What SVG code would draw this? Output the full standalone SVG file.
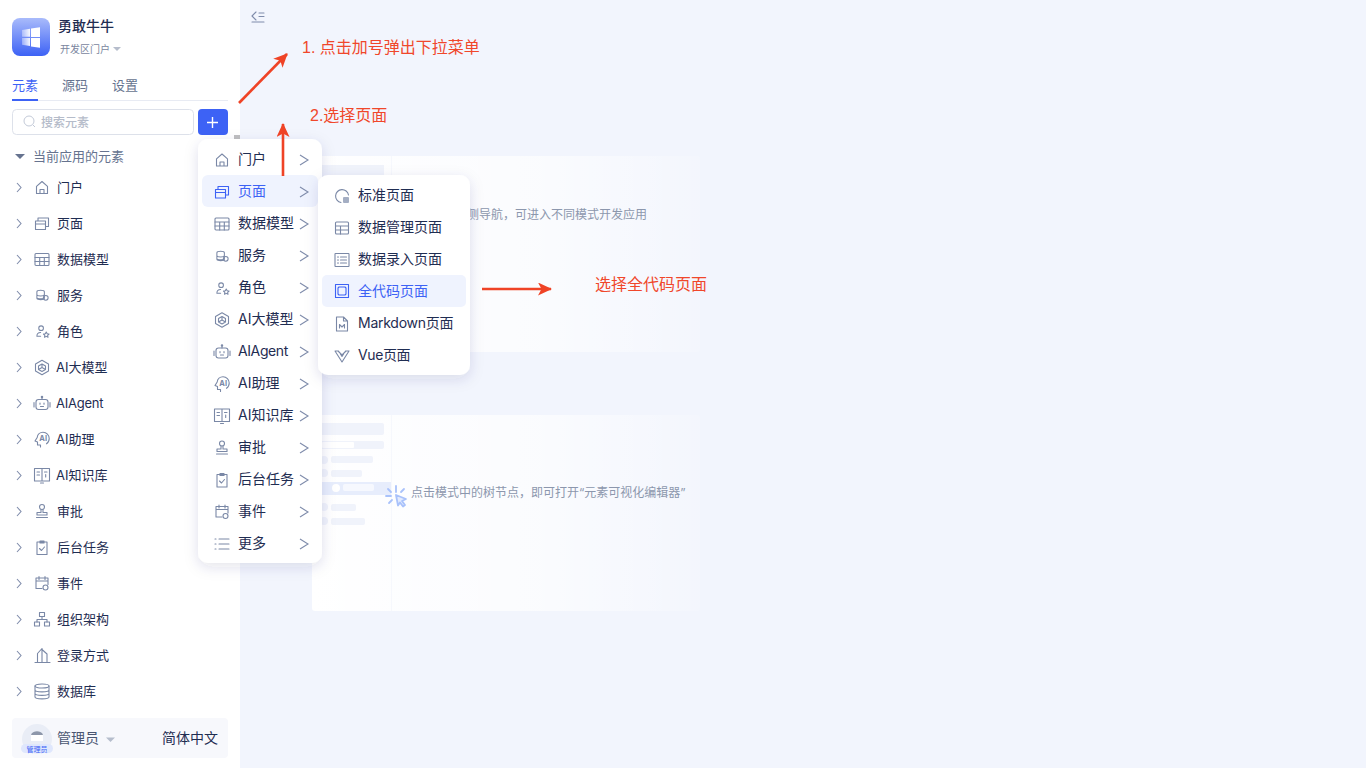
<svg xmlns="http://www.w3.org/2000/svg" width="1366" height="768" viewBox="0 0 1366 768">
<style>
text{font-family:"Inter","Noto Sans CJK SC","Noto Sans",sans-serif;fill:#1f2d52}
.s13{font-size:13px}.s14{font-size:14px}
.lat13{letter-spacing:-.25px}.lat14{letter-spacing:-.4px}
.blue{fill:#3d62f5}
.note{font-size:16px;fill:#f0472b;font-family:"Liberation Sans","Noto Sans CJK SC",sans-serif}
.hint{font-size:12px;fill:#8c97ad}
.i{fill:none;stroke:#7a88a6;stroke-width:1.1;stroke-linejoin:round;stroke-linecap:round}
.ib{stroke:#3d62f5}
.chev{fill:none;stroke:#7f8cab;stroke-width:1.1}
.red{fill:none;stroke:#ef4326;stroke-width:2.6}
.ph{fill:#f0f3fb}
</style>
<defs>
<linearGradient id="panel" x1="0" x2="1" y1="0" y2="0"><stop offset="0" stop-color="#fff" stop-opacity="1"/><stop offset=".6" stop-color="#fff" stop-opacity=".65"/><stop offset="1" stop-color="#fff" stop-opacity=".12"/></linearGradient>
<linearGradient id="logo" x1="0" x2="0" y1="0" y2="1"><stop offset="0" stop-color="#a9bbfb"/><stop offset="1" stop-color="#3d62f5"/></linearGradient>
<linearGradient id="win" x1="0" x2="1" y1="0" y2="0"><stop offset="0" stop-color="#fff" stop-opacity=".35"/><stop offset=".5" stop-color="#fff"/></linearGradient>
<filter id="sh" x="-20%" y="-10%" width="140%" height="125%"><feDropShadow dx="0" dy="4" stdDeviation="7" flood-color="#2a3a6b" flood-opacity=".13"/></filter>
<marker id="ah" markerWidth="16" markerHeight="14" refX="13" refY="6.500" orient="auto" markerUnits="userSpaceOnUse" viewBox="0 0 16 14"><path d="M0 0L14 6.500L0 13L3.500 6.500Z" fill="#ef4326"/></marker>
<symbol id="home" viewBox="0 0 16 16" overflow="visible"><path class="i" d="M2.500 6.800L8 2l5.500 4.800V14h-11zM6 14v-4h4v4"/></symbol>
<symbol id="page" viewBox="0 0 16 16" overflow="visible"><path class="i" d="M1.500 5.500h10v8.500h-10zM1.500 8.500h10M4 5.500V2.500h10.500V11h-3"/></symbol>
<symbol id="pageb" viewBox="0 0 16 16" overflow="visible"><path class="i ib" d="M1.500 5.500h10v8.500h-10zM1.500 8.500h10M4 5.500V2.500h10.500V11h-3"/></symbol>
<symbol id="table" viewBox="0 0 16 16" overflow="visible"><rect class="i" x="1" y="2" width="14" height="12" rx="1"/><path class="i" d="M1 6h14M1 10h14M5.700 6v8M10.300 6v8"/></symbol>
<symbol id="svc" viewBox="0 0 16 16" overflow="visible"><path class="i" d="M2 4c0-2 8-2 8 0v7c0 2-8 2-8 0zM2 7c0 2 8 2 8 0M2 10c0 1.500 5 2 6 1"/><circle class="i" cx="11.500" cy="10.500" r="2.500"/></symbol>
<symbol id="role" viewBox="0 0 16 16" overflow="visible"><circle class="i" cx="6.500" cy="4.500" r="2.500"/><path class="i" d="M6 9c-3 0-4 2-4 4h4M12 8.500l1 2 2 .3-1.500 1.400.4 2-1.900-1-1.900 1 .4-2L9 10.800l2-.3z"/></symbol>
<symbol id="cube" viewBox="0 0 16 16" overflow="visible"><path class="i" d="M8 .8l6.500 3.600v7.200L8 15.200l-6.500-3.600V4.400zM8 4.500l3.500 2v3.500L8 12l-3.500-2V6.500zM8 8V4.500M8 8l3.500 2M8 8l-3.500 2"/></symbol>
<symbol id="bot" viewBox="0 0 16 16" overflow="visible"><rect class="i" x="2" y="4" width="12" height="10" rx="2.500"/><path class="i" d="M8 4V2.500M0 7v4.500M16 7v4.500M6 7.500v1.200M10 7.500v1.200M6.500 11h3"/><circle class="i" cx="8" cy="1.500" r=".7"/></symbol>
<symbol id="aih" viewBox="0 0 16 16" overflow="visible"><path class="i" d="M6.500 15.500v-2H3.500V10.500L1 9.500l2.200-3.500C3.500 3 6 .8 9 .8c3.500 0 6.200 2.700 6.200 6.200 0 2.500-1 4.200-2.700 5.300"/><text x="5.300" y="9.800" style="font-size:7.500px;font-weight:700;fill:#7a88a6">AI</text></symbol>
<symbol id="book" viewBox="0 0 16 16" overflow="visible"><path class="i" d="M0.500 1H8v12.500H.5zM8 1h7.500v12.500H8zM3 4.500h2.500M3 7.500h2.500M10.500 4.500H13M11.700 7v2.500M6.500 15.500h3"/></symbol>
<symbol id="stamp" viewBox="0 0 16 16" overflow="visible"><circle class="i" cx="8" cy="3.500" r="2.500"/><path class="i" d="M7 6v3H3v2.500h10V9H9V6M2.500 14h11"/></symbol>
<symbol id="task" viewBox="0 0 16 16" overflow="visible"><path class="i" d="M3 2.500h10V15H3zM6 1.500h4v2H6zM5.500 9l2 2 3-3.500"/></symbol>
<symbol id="event" viewBox="0 0 16 16" overflow="visible"><path class="i" d="M8 13H2V2.500h12V9M2 5.500h12M5 1v3M11 1v3"/><circle class="i" cx="11.500" cy="12" r="2.500"/></symbol>
<symbol id="more" viewBox="0 0 16 16" overflow="visible"><path class="i" d="M5 3h10M5 8h10M5 13h10M1 3h1M1 8h1M1 13h1"/></symbol>
<symbol id="org" viewBox="0 0 16 16" overflow="visible"><rect class="i" x="5.500" y="1" width="5" height="4"/><rect class="i" x=".5" y="10.500" width="5" height="4"/><rect class="i" x="10.500" y="10.500" width="5" height="4"/><path class="i" d="M8 5v3M3 10.500V8h10v2.500"/></symbol>
<symbol id="login" viewBox="0 0 16 16" overflow="visible"><path class="i" d="M0 15h15M2.500 15V6L7 1v14M7 2l5 4.500V15"/></symbol>
<symbol id="db" viewBox="0 0 16 16" overflow="visible"><ellipse class="i" cx="8" cy="2.500" rx="7" ry="2"/><path class="i" d="M1 2.500v11c0 2.500 14 2.500 14 0v-11M1 6.500c0 2.500 14 2.500 14 0M1 10c0 2.500 14 2.500 14 0"/></symbol>
<symbol id="std" viewBox="0 0 16 16" overflow="visible"><path class="i" d="M14.500 7A6.500 6.500 0 1 0 7 14.500"/><rect x="9" y="9" width="6" height="6" rx="1" fill="#a4aec3"/></symbol>
<symbol id="dm" viewBox="0 0 16 16" overflow="visible"><rect class="i" x="1.500" y="2" width="13" height="12" rx="1"/><path class="i" d="M1.500 6h13M1.500 10h13M6.500 6v8"/></symbol>
<symbol id="form" viewBox="0 0 16 16" overflow="visible"><rect class="i" x="1" y="1.500" width="14" height="13" rx=".5"/><path class="i" d="M3.500 5h1M3.500 8h1M3.500 11h1M6.500 5h6M6.500 8h6M6.500 11h6"/></symbol>
<symbol id="code" viewBox="0 0 16 16" overflow="visible"><rect class="i ib" x="1.500" y="1.500" width="13" height="13"/><path class="i ib" d="M5 4h6l1 1v6l-1 1H5l-1-1V5z"/></symbol>
<symbol id="md" viewBox="0 0 16 16" overflow="visible"><path class="i" d="M2.500 1h7l4 4v10h-11zM9.500 1v4h4M5.500 12V8.500L8 11l2.500-2.500V12"/></symbol>
<symbol id="vue" viewBox="0 0 16 16" overflow="visible"><path class="i" d="M1 3L8 14l7-11h-3.500L8 8.500 4.500 3zM4 3l4 4 4-4"/></symbol>
</defs>

<rect width="1366" height="768" fill="#f2f5fd"/>

<g id="canvas-top">
<rect x="312" y="156" width="388" height="196" rx="3" fill="url(#panel)"/>
<path d="M391.500 156v196" stroke="#f6f8fd"/>
<rect x="312" y="165" width="72" height="12" fill="#f0f3fb"/>
<text x="467" y="219" class="hint">侧导航，可进入不同模式开发应用</text>
</g>
<g id="canvas-bottom">
<rect x="312" y="415" width="388" height="196" rx="3" fill="url(#panel)"/>
<path d="M391.500 415v196" stroke="#f6f8fd"/>
<rect x="312" y="423" width="72" height="12" rx="2" class="ph"/>
<rect x="312" y="441" width="72" height="8" rx="2" class="ph"/>
<rect x="322" y="442" width="32" height="6" rx="1" fill="#fff"/>
<rect x="331" y="456" width="42" height="7" rx="2" class="ph"/>
<rect x="331" y="470" width="31" height="7" rx="2" class="ph"/>
<rect x="312" y="482" width="79" height="13" fill="#e7edfc"/>
<circle cx="336" cy="488" r="4" fill="#fff"/><rect x="343" y="484" width="31" height="7" rx="2" fill="#f6f8fe"/>
<rect x="331" y="504" width="25" height="7" rx="2" class="ph"/>
<rect x="331" y="518" width="34" height="7" rx="2" class="ph"/>
<circle cx="324" cy="460" r="4" class="ph"/><circle cx="324" cy="473" r="4" class="ph"/><circle cx="324" cy="507" r="4" class="ph"/><circle cx="324" cy="521" r="4" class="ph"/>
<path d="M396 486v6M388 489l3 3M386 496h5M389 503l3-3M404 489l-3 3" stroke="#a9c2fb" stroke-width="1.800" fill="none" stroke-linecap="round"/>
<path d="M396 495l10 4-4 2 3 4-2 1.500-3-4-2 3z" fill="#e3ebfd" stroke="#a9c2fb" stroke-width="1.800" stroke-linejoin="round"/>
<text x="411" y="497" class="hint">点击模式中的树节点，即可打开“元素可视化编辑器”</text>
</g>
<g id="collapse-toggle"><path class="i" d="M256 12l-4 4 4 4M259 13h5M259 16.500h5M252 22h12" style="stroke:#7f8cab"/></g>

<g id="sidebar">
<rect width="240" height="768" fill="#fff"/>
<g id="logo"><rect x="12" y="18" width="38" height="38" rx="8" fill="url(#logo)"/>
<path d="M22 30l8-1.200v8h-8zM31 28.600l9-1.400v9.800h-9zM22 38h8v8l-8-1.200zM31 38h9v9.800l-9-1.400z" fill="url(#win)"/></g>
<text x="58" y="31" style="font-size:14px;font-weight:500">勇敢牛牛</text>
<text x="60" y="53" style="font-size:10px;fill:#7a869e">开发区门户</text>
<path d="M113 47h8l-4 4z" fill="#b6bdcc"/>
<g id="tabs">
<text x="12" y="90" class="s13 blue">元素</text><text x="62" y="90" class="s13" style="fill:#66738f">源码</text><text x="112" y="90" class="s13" style="fill:#66738f">设置</text>
<path d="M12 100.500h216" stroke="#e8ebf3"/><rect x="12" y="99" width="26" height="2" fill="#3d62f5"/>
</g>
<g id="search"><rect x="12.500" y="109.500" width="181" height="25" rx="4" fill="#fff" stroke="#dde1ea"/>
<circle cx="29" cy="121" r="5" fill="none" stroke="#c3cad8"/><path d="M33 125l2 2" stroke="#c3cad8"/>
<text x="41" y="126.500" style="font-size:12px;font-weight:500;fill:#b5bcca">搜索元素</text></g>
<g id="add-button"><rect x="198" y="109" width="30" height="26" rx="4" fill="#3d62f5"/><path d="M207 122.500h11M212.500 117v11" stroke="#fff" stroke-width="1.400"/></g>
<rect x="234" y="135" width="6" height="4" fill="#bfbfbf"/>
<path d="M15 154h10l-5 5z" fill="#66738f"/>
<text x="33" y="161" class="s13" style="fill:#66738f">当前应用的元素</text>

<g id="tree">
<g id="t-portal"><path class="chev" d="M17 183l4 4.500-4 4.500"/><use href="#home" x="34" y="179.500" width="16" height="16"/><text x="57" y="192" class="s13">门户</text></g>
<g id="t-page"><path class="chev" d="M17 219l4 4.500-4 4.500"/><use href="#page" x="34" y="215.500" width="16" height="16"/><text x="57" y="228" class="s13">页面</text></g>
<g id="t-model"><path class="chev" d="M17 255l4 4.500-4 4.500"/><use href="#table" x="34" y="251.500" width="16" height="16"/><text x="57" y="264" class="s13">数据模型</text></g>
<g id="t-service"><path class="chev" d="M17 291l4 4.500-4 4.500"/><use href="#svc" x="35" y="288" width="15" height="15"/><text x="57" y="300" class="s13">服务</text></g>
<g id="t-role"><path class="chev" d="M17 327l4 4.500-4 4.500"/><use href="#role" x="35" y="324" width="15" height="15"/><text x="57" y="336" class="s13">角色</text></g>
<g id="t-llm"><path class="chev" d="M17 363l4 4.500-4 4.500"/><use href="#cube" x="34" y="359.500" width="16" height="16"/><text x="56" y="372" class="s13">AI大模型</text></g>
<g id="t-agent"><path class="chev" d="M17 399l4 4.500-4 4.500"/><use href="#bot" x="34" y="395.500" width="16" height="16"/><text x="56" y="408" class="s13 lat13">AIAgent</text></g>
<g id="t-assist"><path class="chev" d="M17 435l4 4.500-4 4.500"/><use href="#aih" x="34" y="431.500" width="16" height="16"/><text x="56" y="444" class="s13">AI助理</text></g>
<g id="t-kb"><path class="chev" d="M17 471l4 4.500-4 4.500"/><use href="#book" x="34" y="467.500" width="16" height="16"/><text x="56" y="480" class="s13">AI知识库</text></g>
<g id="t-approve"><path class="chev" d="M17 507l4 4.500-4 4.500"/><use href="#stamp" x="34" y="503.500" width="16" height="16"/><text x="57" y="516" class="s13">审批</text></g>
<g id="t-job"><path class="chev" d="M17 543l4 4.500-4 4.500"/><use href="#task" x="34" y="539.500" width="16" height="16"/><text x="57" y="552" class="s13">后台任务</text></g>
<g id="t-event"><path class="chev" d="M17 579l4 4.500-4 4.500"/><use href="#event" x="34" y="575.500" width="16" height="16"/><text x="57" y="588" class="s13">事件</text></g>
<g id="t-org"><path class="chev" d="M17 615l4 4.500-4 4.500"/><use href="#org" x="34" y="611.500" width="16" height="16"/><text x="57" y="624" class="s13">组织架构</text></g>
<g id="t-login"><path class="chev" d="M17 651l4 4.500-4 4.500"/><use href="#login" x="35" y="647.500" width="16" height="16"/><text x="57" y="660" class="s13">登录方式</text></g>
<g id="t-db"><path class="chev" d="M17 687l4 4.500-4 4.500"/><use href="#db" x="34" y="683.500" width="16" height="16"/><text x="57" y="696" class="s13">数据库</text></g>
</g>
<g id="footer"><rect x="12" y="718" width="216" height="40" rx="4" fill="#f7f8fc"/>
<circle cx="37" cy="739" r="15" fill="#e9edf6"/><path d="M31 741v-5c0-6 12-6 12 0v5z" fill="#fff"/><path d="M31 735c1-5 11-5 12 0z" fill="#8d97aa"/>
<rect x="21" y="744" width="32" height="9" rx="4.500" fill="#dfe7fd"/><text x="37" y="751.500" text-anchor="middle" style="font-size:7px;fill:#3d62f5">管理员</text>
<text x="57" y="743" class="s14" style="fill:#4a5672">管理员</text><path d="M106 737.500h9l-4.500 4.500z" fill="#b6bdcc"/>
<text x="162" y="743" class="s14">简体中文</text></g>
</g>

<g id="menu">
<rect x="198" y="139" width="124" height="424" rx="10" fill="#fff" filter="url(#sh)"/>
<rect x="202" y="175" width="116" height="32" rx="6" fill="#eff3fe"/>
<g id="m-portal"><use href="#home" x="214" y="152" width="16" height="16"/><text x="238" y="164" class="s14">门户</text><path class="chev" d="M300 155l8 5-8 5"/></g>
<g id="m-page"><use href="#pageb" x="214" y="184" width="16" height="16"/><text x="238" y="196" class="s14 blue">页面</text><path class="chev" d="M300 187l8 5-8 5"/></g>
<g id="m-model"><use href="#table" x="214" y="216" width="16" height="16"/><text x="238" y="228" class="s14">数据模型</text><path class="chev" d="M300 219l8 5-8 5"/></g>
<g id="m-service"><use href="#svc" x="215" y="249" width="15" height="15"/><text x="238" y="260" class="s14">服务</text><path class="chev" d="M300 251l8 5-8 5"/></g>
<g id="m-role"><use href="#role" x="215" y="281" width="15" height="15"/><text x="238" y="292" class="s14">角色</text><path class="chev" d="M300 283l8 5-8 5"/></g>
<g id="m-llm"><use href="#cube" x="214" y="312" width="16" height="16"/><text x="238" y="324" class="s14">AI大模型</text><path class="chev" d="M300 315l8 5-8 5"/></g>
<g id="m-agent"><use href="#bot" x="214" y="344" width="16" height="16"/><text x="238" y="356" class="s14 lat14">AIAgent</text><path class="chev" d="M300 347l8 5-8 5"/></g>
<g id="m-assist"><use href="#aih" x="214" y="376" width="16" height="16"/><text x="238" y="388" class="s14">AI助理</text><path class="chev" d="M300 379l8 5-8 5"/></g>
<g id="m-kb"><use href="#book" x="214" y="408" width="16" height="16"/><text x="238" y="420" class="s14">AI知识库</text><path class="chev" d="M300 411l8 5-8 5"/></g>
<g id="m-approve"><use href="#stamp" x="214" y="440" width="16" height="16"/><text x="238" y="452" class="s14">审批</text><path class="chev" d="M300 443l8 5-8 5"/></g>
<g id="m-job"><use href="#task" x="214" y="472" width="16" height="16"/><text x="238" y="484" class="s14">后台任务</text><path class="chev" d="M300 475l8 5-8 5"/></g>
<g id="m-event"><use href="#event" x="214" y="504" width="16" height="16"/><text x="238" y="516" class="s14">事件</text><path class="chev" d="M300 507l8 5-8 5"/></g>
<g id="m-more"><use href="#more" x="214" y="536" width="16" height="16"/><text x="238" y="548" class="s14">更多</text><path class="chev" d="M300 539l8 5-8 5"/></g>
</g>

<g id="submenu">
<rect x="318" y="175" width="152" height="200" rx="10" fill="#fff" filter="url(#sh)"/>
<rect x="322" y="275" width="144" height="32" rx="5" fill="#eff3fe"/>
<g id="s-std"><use href="#std" x="334" y="188" width="16" height="16"/><text x="358" y="200" class="s14">标准页面</text></g>
<g id="s-dm"><use href="#dm" x="334" y="220" width="16" height="16"/><text x="358" y="232" class="s14">数据管理页面</text></g>
<g id="s-form"><use href="#form" x="334" y="252" width="16" height="16"/><text x="358" y="264" class="s14">数据录入页面</text></g>
<g id="s-code"><use href="#code" x="334" y="283" width="16" height="16"/><text x="358" y="296" class="s14 blue">全代码页面</text></g>
<g id="s-md"><use href="#md" x="334" y="316" width="16" height="16"/><text x="358" y="328" class="s14" style="letter-spacing:-.25px">Markdown页面</text></g>
<g id="s-vue"><use href="#vue" x="334" y="348" width="16" height="16"/><text x="358" y="360" class="s14" style="letter-spacing:-.4px">Vue页面</text></g>
</g>

<g id="connectors">
<path class="red" d="M239 103L287 54" marker-end="url(#ah)"/>
<path class="red" d="M283 176V124" marker-end="url(#ah)"/>
<path class="red" d="M482 289H551" marker-end="url(#ah)"/>
</g>
<g id="annotations">
<text x="302" y="53" class="note">1. 点击加号弹出下拉菜单</text>
<text x="310" y="121" class="note">2.选择页面</text>
<text x="595" y="290" class="note">选择全代码页面</text>
</g>
</svg>
